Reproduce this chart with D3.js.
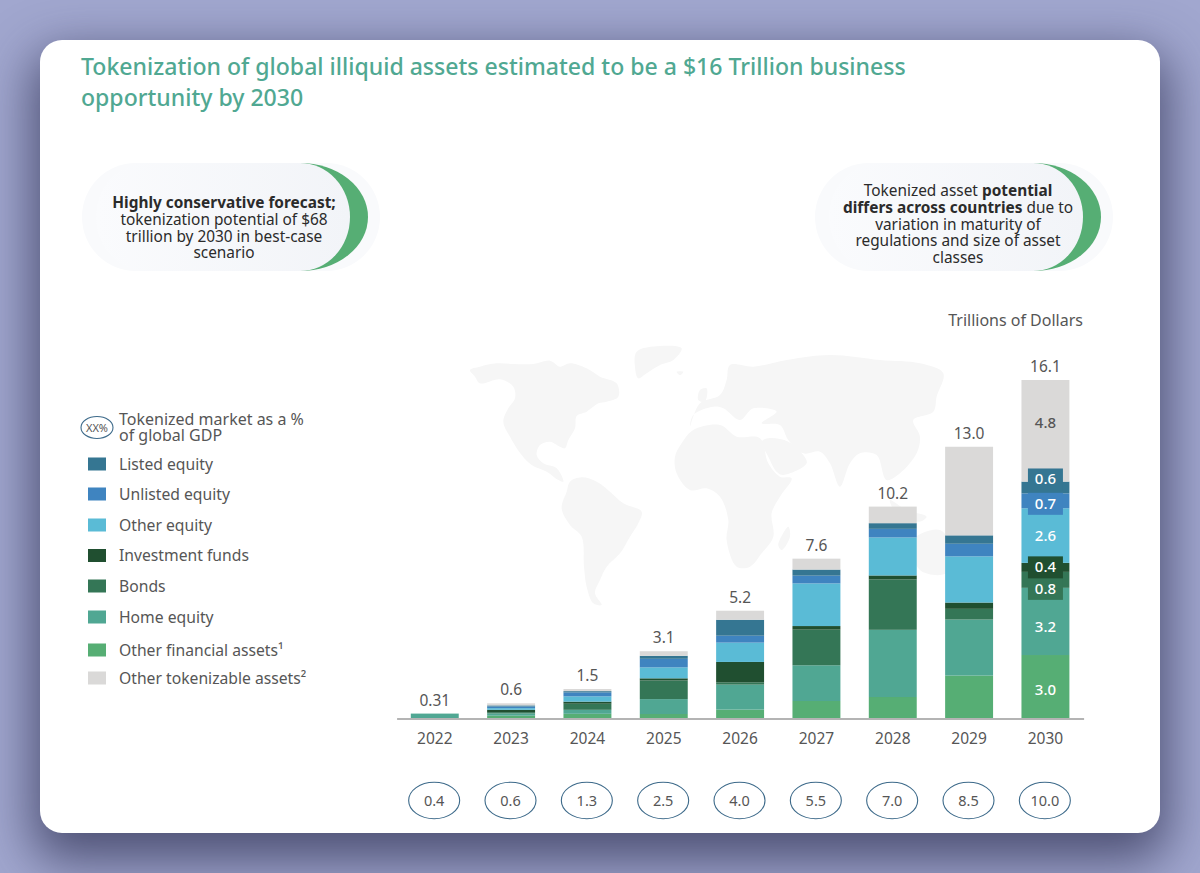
<!DOCTYPE html>
<html>
<head>
<meta charset="utf-8">
<script src="https://cdn.jsdelivr.net/npm/d3@7"></script>
<style>
html,body{margin:0;padding:0;width:1200px;height:873px;overflow:hidden;background:#a1a7cf;}
#card{position:absolute;left:40px;top:40px;width:1120px;height:793px;background:#fff;border-radius:22px;box-shadow:0 20px 50px 8px rgba(40,42,75,.68);}
svg{position:absolute;left:0;top:0;}
text{font-family:"Noto Sans",sans-serif;}
</style>
</head>
<body>
<div id="card"></div>
<svg id="chart" width="1200" height="873"></svg>
<script>
// ---------- chart data ----------
const years = ["2022","2023","2024","2025","2026","2027","2028","2029","2030"];
const totalLabels = ["0.31","0.6","1.5","3.1","5.2","7.6","10.2","13.0","16.1"];
const gdpShare = ["0.4","0.6","1.3","2.5","4.0","5.5","7.0","8.5","10.0"];

const otherFinancial = [0,    0.11, 0.20, 0.19, 0.40, 0.81, 1.00, 2.02, 3.00];
const homeEquity     = [0.21, 0.11, 0.19, 0.71, 1.19, 1.70, 3.20, 2.67, 3.20];
const bonds          = [0,    0.06, 0.29, 0.89, 0.11, 1.70, 2.40, 0.51, 0.76];
const investFunds    = [0,    0.11, 0.10, 0.10, 0.97, 0.17, 0.19, 0.30, 0.43];
const otherEquity    = [0,    0.08, 0.25, 0.52, 0.92, 2.03, 1.81, 2.20, 2.60];
const unlistedEquity = [0,    0.08, 0.19, 0.41, 0.33, 0.37, 0.41, 0.60, 0.71];
const listedEquity   = [0,    0.05, 0.06, 0.14, 0.76, 0.29, 0.27, 0.40, 0.56];
const otherTokenizable=[0,    0.10, 0.10, 0.22, 0.43, 0.52, 0.79, 4.22, 4.84];

const seriesNames = ["Other financial assets¹","Home equity","Bonds","Investment funds","Other equity","Unlisted equity","Listed equity","Other tokenizable assets²"];
const seriesValues = [otherFinancial,homeEquity,bonds,investFunds,otherEquity,unlistedEquity,listedEquity,otherTokenizable];
const seriesColors = ["#56ae74","#50a793","#347656","#204f30","#5abbd6","#3f84c0","#357692","#dad9d8"];

// segment labels for the last bar (bottom to top)
const lastBarLabels = ["3.0","3.2","0.8","0.4","2.6","0.7","0.6","4.8"];

// ---------- layout ----------
const svg = d3.select("#chart");
const TEXT = "#565656", INK = "#2b2b2b", TEAL = "#50a892", RING = "#3d6a8a";

const defs = svg.append("defs");
const grad = defs.append("linearGradient").attr("id","pillFill");
grad.append("stop").attr("offset","0%").attr("stop-color","#fafbfd");
grad.append("stop").attr("offset","100%").attr("stop-color","#f2f4f8");

// world map backdrop (decorative silhouette)
const mapShapes = [
 [[30,90],[60,80],[110,70],[160,72],[220,72],[270,62],[300,80],[330,70],[380,85],[420,110],[470,130],[475,170],[440,185],[415,190],[380,215],[350,228],[345,265],[325,300],[315,325],[300,320],[270,305],[240,315],[230,345],[250,370],[290,385],[310,425],[295,420],[260,395],[215,375],[185,345],[150,290],[130,245],[145,205],[165,175],[160,140],[120,118],[60,130],[45,110]],
 [[530,35],[600,18],[665,25],[640,60],[600,75],[560,100],[535,115],[525,80]],
 [[330,425],[365,412],[410,425],[450,455],[490,490],[545,515],[535,550],[510,590],[480,640],[440,680],[420,720],[405,760],[425,795],[400,790],[380,740],[372,680],[365,590],[330,555],[305,505],[320,455]],
 [[700,270],[780,255],[830,290],[900,295],[925,370],[960,410],[995,415],[960,470],[935,520],[940,590],[905,640],[870,680],[830,680],[800,600],[805,540],[780,470],[740,445],[690,450],[650,400],[645,350],[665,310]],
 [[690,260],[700,225],[760,200],[790,205],[840,240],[880,205],[950,215],[905,250],[960,255],[985,300],[1030,340],[1080,335],[1110,370],[1140,440],[1170,370],[1200,340],[1250,345],[1280,420],[1320,400],[1370,340],[1380,290],[1360,240],[1420,215],[1430,170],[1450,100],[1380,70],[1260,60],[1110,45],[980,60],[880,80],[810,75],[800,120],[780,165],[720,190]],
 [[905,305],[925,295],[985,305],[1030,345],[1040,370],[970,405],[950,395],[925,350]],
 [[985,560],[990,590],[965,630],[955,615]],
 [[720,150],[740,145],[735,185],[715,180]],
 [[650,95],[670,95],[660,105]],
 [[1360,600],[1440,570],[1480,640],[1460,700],[1380,690]],
 [[1290,480],[1340,510],[1400,530],[1380,545],[1310,520]]
];
const mapLine = d3.line().curve(d3.curveCatmullRomClosed.alpha(.5));
svg.append("g").attr("transform","translate(460,340) scale(0.3333)")
  .selectAll("path").data(mapShapes).join("path")
  .attr("d",mapLine).attr("fill","#f6f6f6");

// title
svg.append("g").selectAll("text")
  .data(["Tokenization of global illiquid assets estimated to be a $16 Trillion business","opportunity by 2030"])
  .join("text").attr("x",81).attr("y",(d,i)=>75+i*30.5)
  .attr("font-size",23.05).attr("font-weight",500).attr("fill",TEAL).text(d=>d);

// callout pills
const pills = [
 {dx:0, cx:224, y0:208, lines:[[["Highly conservative forecast;",1]],[["tokenization potential of $68",0]],[["trillion by 2030 in best-case",0]],[["scenario",0]]]},
 {dx:733, cx:958, y0:196, lines:[[["Tokenized asset ",0],["potential",1]],[["differs across countries",1],[" due to",0]],[["variation in maturity of",0]],[["regulations and size of asset",0]],[["classes",0]]]}
];
pills.forEach(p=>{
  const g = svg.append("g");
  g.append("rect").attr("x",82+p.dx).attr("y",163).attr("width",298).attr("height",108).attr("rx",54).attr("fill","#f9fafc");
  g.append("rect").attr("x",150+p.dx).attr("y",163).attr("width",218).attr("height",108).attr("rx",68).attr("ry",54).attr("fill","#56ae74");
  g.append("rect").attr("x",96+p.dx).attr("y",163).attr("width",254).attr("height",108).attr("rx",50).attr("ry",54).attr("fill","url(#pillFill)");
  const t = g.append("text").attr("text-anchor","middle").attr("font-size",15.4).attr("fill",INK);
  p.lines.forEach((ln,i)=>{
    const line = t.append("tspan").attr("x",p.cx).attr("y",p.y0+i*16.8);
    ln.forEach(r=>line.append("tspan").attr("font-weight",r[1]?700:400).text(r[0]));
  });
});

// legend
const legendOrder = [6,5,4,3,2,1,0,7];
const legendY = d3.scaleOrdinal().domain(legendOrder).range([464,494,525,555.5,586,617,650,678]);
const legend = svg.append("g");
legend.append("ellipse").attr("cx",97).attr("cy",427.5).attr("rx",16).attr("ry",11).attr("fill","#fff").attr("stroke",RING).attr("stroke-width",1.1);
legend.append("text").attr("x",97).attr("y",431.5).attr("text-anchor","middle").attr("font-size",11).attr("fill",TEXT).text("XX%");
legend.append("text").attr("x",119).attr("y",425).attr("font-size",16).attr("fill",TEXT).text("Tokenized market as a %");
legend.append("text").attr("x",119).attr("y",441).attr("font-size",16).attr("fill",TEXT).text("of global GDP");
const items = legend.selectAll("g.item").data(legendOrder).join("g").attr("class","item");
items.append("rect").attr("x",88).attr("y",d=>legendY(d)-6.5).attr("width",18).attr("height",13).attr("fill",d=>seriesColors[d]);
items.append("text").attr("x",119).attr("y",d=>legendY(d)+5.6).attr("font-size",15.7).attr("fill",TEXT).text(d=>seriesNames[d]);

// scales
const x = d3.scaleBand().domain(years).range([396.6,1083.6]).paddingInner(0.372).paddingOuter(0.186);
const y = d3.scaleLinear().domain([0,16.1]).range([718,380]);

// stacked bars
const table = years.map((yr,i)=>{
  const row = {year:yr};
  seriesNames.forEach((s,k)=>row[s]=seriesValues[k][i]);
  return row;
});
const stacked = d3.stack().keys(seriesNames)(table);
svg.append("g").selectAll("g").data(stacked).join("g")
  .attr("fill",(d,i)=>seriesColors[i])
  .selectAll("rect").data(d=>d).join("rect")
  .attr("x",d=>x(d.data.year)).attr("width",x.bandwidth())
  .attr("y",d=>y(d[1])).attr("height",d=>y(d[0])-y(d[1]));

// axis
const axis = svg.append("g").attr("transform","translate(0,718.5)")
  .call(d3.axisBottom(x).tickSize(0).tickPadding(14.5));
axis.select(".domain").attr("stroke","#9b9b9b").attr("stroke-width",1.6);
axis.selectAll("text").attr("font-size",15.5).attr("fill",TEXT).attr("font-family",'"Noto Sans",sans-serif');

// total labels
const tops = stacked[stacked.length-1];
svg.append("g").selectAll("text").data(totalLabels).join("text")
  .attr("x",(d,i)=>x(years[i])+x.bandwidth()/2)
  .attr("y",(d,i)=>y(tops[i][1])-8)
  .attr("text-anchor","middle").attr("font-size",15.5).attr("fill",TEXT).text(d=>d);

// labels inside the last bar
const lastIdx = years.length-1;
const labelNudge = [3,6,9,0,0,3,-8,-8];
const boxed = [false,false,true,true,false,true,true,false];
const labelG = svg.append("g").selectAll("g").data(lastBarLabels).join("g")
  .attr("transform",(d,k)=>{
    const s = stacked[k][lastIdx];
    return `translate(${x(years[lastIdx])+x.bandwidth()/2},${(y(s[0])+y(s[1]))/2+labelNudge[k]})`;
  });
labelG.filter((d,k)=>boxed[k]).append("rect")
  .attr("x",-17.5).attr("y",-11).attr("width",35).attr("height",22)
  .attr("fill",(d)=>seriesColors[lastBarLabels.indexOf(d)]);
labelG.append("text").attr("text-anchor","middle").attr("y",5).attr("font-size",15)
  .attr("font-weight",500)
  .attr("fill",(d,k)=>k===7?TEXT:"#fff").text(d=>d);

// GDP share rings
const rings = svg.append("g").selectAll("g").data(gdpShare).join("g")
  .attr("transform",(d,i)=>`translate(${x(years[i])+x.bandwidth()/2-0.6},800.5)`);
rings.append("ellipse").attr("rx",25.5).attr("ry",18.2).attr("fill","#fff").attr("stroke",RING).attr("stroke-width",1.1);
rings.append("text").attr("text-anchor","middle").attr("y",5).attr("font-size",14.5).attr("fill",TEXT).text(d=>d);

// unit note
svg.append("text").attr("x",1083).attr("y",325.5).attr("text-anchor","end").attr("font-size",16).attr("fill",TEXT).text("Trillions of Dollars");
</script>
</body>
</html>
